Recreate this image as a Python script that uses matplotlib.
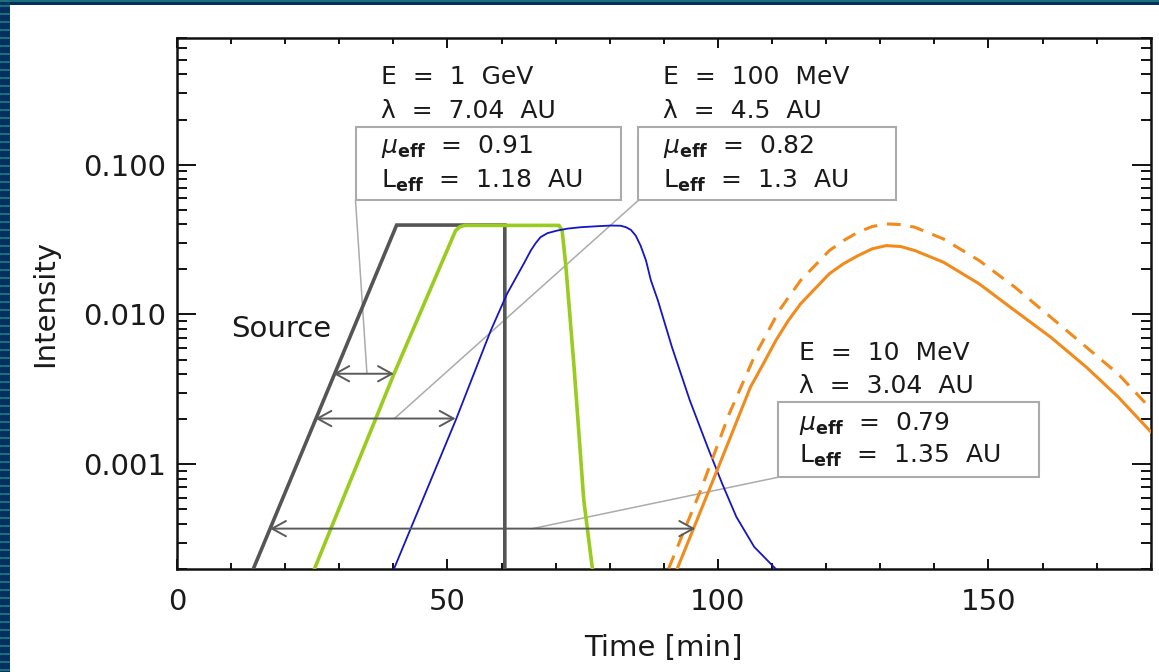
import matplotlib
matplotlib.use("Agg")
import matplotlib.pyplot as plt
from matplotlib.patches import Rectangle
from matplotlib.ticker import FixedLocator, NullFormatter, MultipleLocator

plt.rcParams['font.family'] = ['DejaVu Sans']
plt.rcParams['mathtext.fontset'] = 'dejavusans'

# ---------------- data ----------------
source_t = [14.1, 40.6, 60.6, 60.6]
source_i = [2.0e-4, 0.0395, 0.0395, 2.0e-4]

gev_t = [25.4, 36.7, 40.1, 51.5, 52.3, 53.2, 70.6, 71.2, 71.9, 73.4, 75.2, 76.8]
gev_i = [2.0e-4, 2.0e-3, 4.0e-3, 0.0363, 0.0385, 0.0393, 0.0393, 0.0363, 0.0207,
         4.46e-3, 5.75e-4, 2.0e-4]

mev100_t = [40.1, 51.5, 58.0, 61.0, 63.0, 64.1, 65.4, 66.3, 67.2, 68.5, 70.3, 72.2,
            74.6, 77.7, 80.2, 82.0, 83.0, 83.9, 84.8, 85.7, 86.7, 87.6, 88.9, 91.5,
            94.8, 98.1, 100.8, 103.4, 106.7, 110.7]
mev100_i = [2.0e-4, 1.96e-3, 7.8e-3, 0.0137, 0.0185, 0.0218, 0.0267, 0.0299, 0.0328,
            0.0349, 0.0363, 0.0374, 0.0382, 0.0388, 0.0392, 0.0391, 0.0382, 0.0367,
            0.0336, 0.0288, 0.0229, 0.0169, 0.0124, 6.05e-3, 2.67e-3, 1.3e-3, 7.4e-4,
            4.46e-4, 2.81e-4, 2.0e-4]

mev10_t = [92.5, 100.1, 106.0, 108.4, 110.7, 113.0, 115.3, 120.6, 123.2, 125.9, 128.5,
           131.1, 133.8, 136.4, 141.7, 148.3, 154.9, 161.5, 168.1, 174.0, 180.0]
mev10_i = [2.02e-4, 9.6e-4, 3.27e-3, 4.69e-3, 6.7e-3, 9.1e-3, 0.0118, 0.0187, 0.0218,
           0.0247, 0.0274, 0.0288, 0.0284, 0.0267, 0.0223, 0.0160, 0.0106, 7.06e-3,
           4.45e-3, 2.81e-3, 1.65e-3]

mev10d_t = [90.9, 96.8, 102.1, 106.7, 109.0, 111.3, 113.3, 115.3, 120.6, 123.2, 125.9,
            128.5, 131.1, 133.8, 136.4, 141.7, 148.3, 154.9, 161.5, 168.1, 174.0, 180.0]
mev10d_i = [2.02e-4, 6.7e-4, 2.18e-3, 5.2e-3, 7.4e-3, 0.0106, 0.0134, 0.0169, 0.0267,
            0.0311, 0.0354, 0.0386, 0.0402, 0.0398, 0.0382, 0.0319, 0.0229, 0.0152,
            9.6e-3, 6.05e-3, 4.0e-3, 2.35e-3]

ytick_vals = [0.001, 0.01, 0.1]
ytick_labels = ['0.001', '0.010', '0.100']
xtick_vals = [0, 50, 100, 150]
xtick_labels = ['0', '50', '100', '150']

box1_lines = ["E  =  1  GeV", "\u03bb  =  7.04  AU",
              r"$\mu_{\mathbf{eff}}$  =  0.91", r"$\mathrm{L}_{\mathbf{eff}}$  =  1.18  AU"]
box2_lines = ["E  =  100  MeV", "\u03bb  =  4.5  AU",
              r"$\mu_{\mathbf{eff}}$  =  0.82", r"$\mathrm{L}_{\mathbf{eff}}$  =  1.3  AU"]
box3_lines = ["E  =  10  MeV", "\u03bb  =  3.04  AU",
              r"$\mu_{\mathbf{eff}}$  =  0.79", r"$\mathrm{L}_{\mathbf{eff}}$  =  1.35  AU"]

# ---------------- figure ----------------
W, H = 1159, 672
fig = plt.figure(figsize=(W / 100, H / 100), dpi=100)
fig.patch.set_facecolor('white')

# decorative frame (top and left)
navy = '#03305e'
teal = '#17707c'
fig.add_artist(Rectangle((0, 0), 10 / W, 1, transform=fig.transFigure, color=navy, lw=0, zorder=0))
fig.add_artist(Rectangle((0, 1 - 5 / H), 1, 5 / H, transform=fig.transFigure, color=navy, lw=0, zorder=0))
fig.add_artist(Rectangle((0, 1 - 1.5 / H), 1, 1.5 / H, transform=fig.transFigure, color=teal, lw=0, zorder=1))
for yy in range(5, H, 8):
    fig.add_artist(Rectangle((0, 1 - (yy + 2) / H), 10 / W, 2 / H, transform=fig.transFigure,
                             color=teal, lw=0, zorder=1))

ax = fig.add_axes([177 / W, 1 - 569 / H, (1150.7 - 177) / W, (569 - 38) / H])
ax.set_yscale('log')
ax.set_xlim(0, 180)
ax.set_ylim(2.0e-4, 0.7)

ax.plot(source_t, source_i, color='#555555', lw=2.6, solid_joinstyle='miter', zorder=3)
ax.plot(gev_t, gev_i, color='#99cc1e', lw=2.6, zorder=4)
ax.plot(mev100_t, mev100_i, color='#1414c8', lw=1.3, zorder=4)
ax.plot(mev10d_t, mev10d_i, color='#f28a1c', lw=2.2, ls=(0, (4.5, 3.2)), zorder=4)
ax.plot(mev10_t, mev10_i, color='#f28a1c', lw=2.2, zorder=4)

# delay arrows
arrow_kw = dict(arrowstyle='<->,head_length=1.0,head_width=0.55', color='#5a5a5a',
                lw=1.4, shrinkA=0, shrinkB=0, mutation_scale=10)
ax.annotate('', xy=(40.1, 4.02e-3), xytext=(28.9, 4.02e-3), arrowprops=arrow_kw, zorder=5)
ax.annotate('', xy=(51.5, 2.02e-3), xytext=(25.6, 2.02e-3), arrowprops=arrow_kw, zorder=5)
ax.annotate('', xy=(95.8, 3.72e-4), xytext=(17.2, 3.72e-4), arrowprops=arrow_kw, zorder=5)

# callout lines
cl = dict(color='#ababab', lw=1.1, zorder=2)
ax.plot([33.0, 35.1], [0.0578, 4.1e-3], **cl)
ax.plot([85.3, 40.2], [0.0578, 2.02e-3], **cl)
ax.plot([111.1, 65.7], [8.19e-4, 3.72e-4], **cl)

# boxes
bk = dict(fill=False, edgecolor='#ababab', lw=1.5, zorder=5)
ax.add_patch(Rectangle((33.0, 0.0577), 82.1 - 33.0, 0.179 - 0.0577, **bk))
ax.add_patch(Rectangle((85.3, 0.0577), 133.0 - 85.3, 0.179 - 0.0577, **bk))
ax.add_patch(Rectangle((111.1, 8.19e-4), 159.3 - 111.1, 2.59e-3 - 8.19e-4, **bk))

tc = '#1a1a1a'
tkw = dict(fontsize=18, color=tc, ha='left', va='baseline', zorder=6)
for ys, s in zip([0.347, 0.206, 0.120, 0.0703], box1_lines):
    ax.text(37.8, ys, s, **tkw)
for ys, s in zip([0.347, 0.206, 0.120, 0.0703], box2_lines):
    ax.text(89.8, ys, s, **tkw)
for ys, s in zip([4.94e-3, 2.97e-3, 1.69e-3, 1.02e-3], box3_lines):
    ax.text(114.9, ys, s, **tkw)

ax.text(10.0, 7.03e-3, 'Source', fontsize=21, color=tc, ha='left', va='baseline', zorder=6)

# axes styling
for sp in ax.spines.values():
    sp.set_linewidth(1.8)
    sp.set_color('#111111')
ax.yaxis.set_major_locator(FixedLocator(ytick_vals))
ax.set_yticklabels(ytick_labels)
ax.yaxis.set_minor_locator(FixedLocator([m * 10.0 ** e for e in (-4, -3, -2, -1) for m in range(2, 10)]))
ax.yaxis.set_minor_formatter(NullFormatter())
ax.xaxis.set_major_locator(FixedLocator(xtick_vals))
ax.set_xticklabels(xtick_labels)
ax.xaxis.set_minor_locator(MultipleLocator(10))
ax.tick_params(axis='both', which='both', direction='in', top=True, right=True,
               width=1.4, color='#111111', labelcolor=tc)
ax.tick_params(axis='y', which='major', length=14, pad=8, labelsize=21)
ax.tick_params(axis='y', which='minor', length=7)
ax.tick_params(axis='x', which='major', length=7.5, pad=14, labelsize=21)
ax.tick_params(axis='x', which='minor', length=4.5)

ax.set_xlabel('Time [min]', fontsize=21, color=tc, labelpad=13)
ax.set_ylabel('Intensity', fontsize=21, color=tc, labelpad=17)

fig.savefig('out.png', dpi=100, facecolor='white')
